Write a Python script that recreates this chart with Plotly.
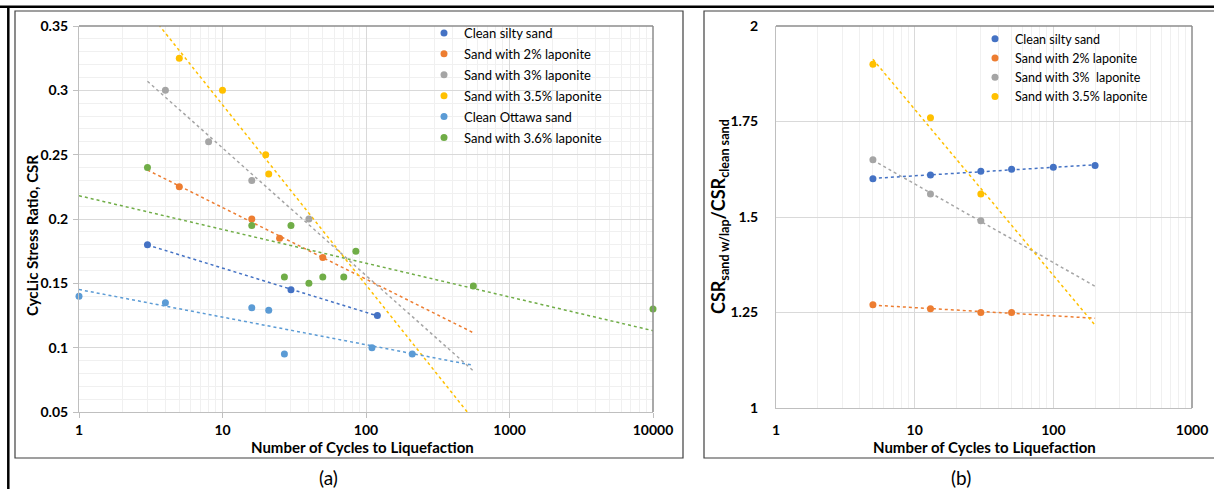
import numpy as np
import plotly.graph_objects as go

# ---------------- data: panel (a) CSR vs number of cycles ----------------
silty_n = [3, 30, 120]
silty_csr = [0.18, 0.145, 0.125]
lap2_n = [5, 16, 25, 50]
lap2_csr = [0.225, 0.2, 0.185, 0.17]
lap3_n = [4, 8, 16, 40]
lap3_csr = [0.3, 0.26, 0.23, 0.2]
lap35_n = [5, 10, 20, 21]
lap35_csr = [0.325, 0.3, 0.25, 0.235]
ottawa_n = [1, 4, 16, 21, 27, 110, 210]
ottawa_csr = [0.14, 0.135, 0.131, 0.129, 0.095, 0.1, 0.095]
lap36_n = [3, 16, 30, 27, 40, 50, 70, 85, 560, 10000]
lap36_csr = [0.24, 0.195, 0.195, 0.155, 0.15, 0.155, 0.155, 0.175, 0.148, 0.13]

# extent (in cycles) of each logarithmic trendline
trend_span_a = {
    "silty": [3, 120],
    "lap2": [3, 556],
    "lap3": [3, 556],
    "lap35": [3, 556],
    "ottawa": [1, 556],
    "lap36": [1, 10000],
}

# ---------------- data: panel (b) CSR ratio vs number of cycles ----------------
ratio_silty_n = [5, 13, 30, 50, 100, 200]
ratio_silty = [1.60, 1.61, 1.62, 1.625, 1.63, 1.635]
ratio_lap2_n = [5, 13, 30, 50]
ratio_lap2 = [1.27, 1.26, 1.25, 1.25]
ratio_lap3_n = [5, 13, 30]
ratio_lap3 = [1.65, 1.56, 1.49]
ratio_lap35_n = [5, 13, 30]
ratio_lap35 = [1.90, 1.76, 1.56]

trend_span_b = [5, 200]

x_ticks_a = [1, 10, 100, 1000, 10000]
y_ticks_a = [0.05, 0.1, 0.15, 0.2, 0.25, 0.3, 0.35]
x_ticks_b = [1, 10, 100, 1000]
y_ticks_b = [1, 1.25, 1.5, 1.75, 2]

BLUE = "#4472C4"
ORANGE = "#ED7D31"
GRAY = "#A5A5A5"
YELLOW = "#FFC000"
LBLUE = "#5B9BD5"
GREEN = "#70AD47"

FONT = "Lato"
W, H = 1214, 489


def log_fit_line(n, y, span):
    """Least-squares fit y = a + b*ln(n), evaluated at the span ends."""
    b, a = np.polyfit(np.log(n), y, 1)
    xs = np.array(span, dtype=float)
    return xs, a + b * np.log(xs)


fig = go.Figure()

series_a = [
    ("Clean silty sand", silty_n, silty_csr, BLUE, "silty"),
    ("Sand with 2% laponite", lap2_n, lap2_csr, ORANGE, "lap2"),
    ("Sand with 3% laponite", lap3_n, lap3_csr, GRAY, "lap3"),
    ("Sand with 3.5% laponite", lap35_n, lap35_csr, YELLOW, "lap35"),
    ("Clean Ottawa sand", ottawa_n, ottawa_csr, LBLUE, "ottawa"),
    ("Sand with 3.6% laponite", lap36_n, lap36_csr, GREEN, "lap36"),
]

for name, n, y, col, key in series_a:
    tx, ty = log_fit_line(n, y, trend_span_a[key])
    fig.add_trace(go.Scatter(
        x=tx, y=ty, mode="lines", xaxis="x", yaxis="y",
        line=dict(color=col, width=1.5, dash="dot"),
        showlegend=False, hoverinfo="skip", legendgroup="a_" + key))
for name, n, y, col, key in series_a:
    fig.add_trace(go.Scatter(
        x=n, y=y, mode="markers", name=name, xaxis="x", yaxis="y",
        marker=dict(color=col, size=7), legend="legend", cliponaxis=False,
        legendgroup="a_" + key))

series_b = [
    ("Clean silty sand", ratio_silty_n, ratio_silty, BLUE),
    ("Sand with 2% laponite", ratio_lap2_n, ratio_lap2, ORANGE),
    ("Sand with 3%\u00a0 laponite", ratio_lap3_n, ratio_lap3, GRAY),
    ("Sand with 3.5% laponite", ratio_lap35_n, ratio_lap35, YELLOW),
]
for i, (name, n, y, col) in enumerate(series_b):
    tx, ty = log_fit_line(n, y, trend_span_b)
    fig.add_trace(go.Scatter(
        x=tx, y=ty, mode="lines", xaxis="x2", yaxis="y2",
        line=dict(color=col, width=1.5, dash="dot"),
        showlegend=False, hoverinfo="skip", legendgroup="b%d" % i))
for i, (name, n, y, col) in enumerate(series_b):
    fig.add_trace(go.Scatter(
        x=n, y=y, mode="markers", name=name, xaxis="x2", yaxis="y2",
        marker=dict(color=col, size=7), legend="legend2", cliponaxis=False,
        legendgroup="b%d" % i))

# plot-area placement in pixels
ax_l, ax_r, ay_t, ay_b = 79, 653, 26, 412
bx_l, bx_r, by_t, by_b = 776, 1192, 26, 408

tick_font = dict(family=FONT, size=14, color="#000000", weight="bold")
grid = "#d9d9d9"
minor_grid = "#f0f0f0"
axis_line = "#bfbfbf"

fig.update_layout(
    width=W, height=H, autosize=False,
    margin=dict(l=0, r=0, t=0, b=0, pad=0, autoexpand=False),
    paper_bgcolor="white", plot_bgcolor="white",
    font=dict(family=FONT, size=12, color="#000000"),
    xaxis=dict(
        type="log", range=[0, 4], domain=[ax_l / W, ax_r / W], anchor="y",
        tickvals=x_ticks_a, ticktext=[str(v) for v in x_ticks_a],
        tickfont=tick_font, showgrid=True, gridcolor=grid, gridwidth=1,
        minor=dict(dtick="D1", showgrid=True, gridcolor=minor_grid, ticks=""),
        showline=True, linecolor=axis_line, linewidth=1,
        ticks="outside", ticklen=5, tickcolor=axis_line, zeroline=False,
        automargin=False,
    ),
    yaxis=dict(
        range=[0.05, 0.35], domain=[1 - ay_b / H, 1 - ay_t / H], anchor="x",
        tickvals=y_ticks_a, ticktext=[("%g" % v) for v in y_ticks_a],
        tickfont=tick_font, showgrid=True, gridcolor=grid, gridwidth=1,
        minor=dict(dtick=0.01, showgrid=True, gridcolor=minor_grid, ticks=""),
        showline=True, linecolor=axis_line, linewidth=1,
        ticks="outside", ticklen=5, tickcolor=axis_line, zeroline=False,
        ticklabelstandoff=2, automargin=False,
    ),
    xaxis2=dict(
        type="log", range=[0, 3], domain=[bx_l / W, bx_r / W], anchor="y2",
        tickvals=x_ticks_b, ticktext=[str(v) for v in x_ticks_b],
        tickfont=tick_font, showgrid=True, gridcolor=grid, gridwidth=1,
        minor=dict(dtick="D1", showgrid=True, gridcolor=minor_grid, ticks=""),
        showline=True, linecolor=axis_line, linewidth=1,
        ticks="", ticklabelstandoff=9, zeroline=False, automargin=False,
    ),
    yaxis2=dict(
        range=[1, 2], domain=[1 - by_b / H, 1 - by_t / H], anchor="x2",
        tickvals=y_ticks_b, ticktext=[("%g" % v) for v in y_ticks_b],
        tickfont=tick_font, showgrid=True, gridcolor=grid, gridwidth=1,
        showline=True, linecolor=axis_line, linewidth=1,
        ticks="", ticklabelstandoff=14, zeroline=False, automargin=False,
    ),
    legend=dict(
        x=424 / W, y=1 - 18 / H, xanchor="left", yanchor="top",
        bgcolor="rgba(0,0,0,0)", font=dict(family=FONT, size=13),
        tracegroupgap=1, itemclick=False, itemdoubleclick=False,
    ),
    legend2=dict(
        x=975 / W, y=1 - 24 / H, xanchor="left", yanchor="top",
        bgcolor="rgba(0,0,0,0)", font=dict(family=FONT, size=12.5),
        tracegroupgap=0, itemclick=False, itemdoubleclick=False,
    ),
)

shapes = []
# outer frame (thick black top and left edges)
shapes.append(dict(type="line", xref="paper", yref="paper", x0=0, x1=1,
                   y0=1 - 6.7 / H, y1=1 - 6.7 / H,
                   line=dict(color="black", width=2.5)))
shapes.append(dict(type="line", xref="paper", yref="paper", x0=8.3 / W, x1=8.3 / W,
                   y0=0, y1=1 - 6.7 / H, line=dict(color="black", width=2.5)))
# panel boxes
shapes.append(dict(type="rect", xref="paper", yref="paper",
                   x0=15 / W, x1=683 / W, y0=1 - 458 / H, y1=1 - 11 / H,
                   line=dict(color="#404040", width=1.2)))
shapes.append(dict(type="rect", xref="paper", yref="paper",
                   x0=704 / W, x1=1222 / W, y0=1 - 458 / H, y1=1 - 11 / H,
                   line=dict(color="#404040", width=1.2)))
# darker top and right plot-area borders
for xr, yr in (("x", "y"), ("x2", "y2")):
    shapes.append(dict(type="line", xref=xr + " domain", yref=yr + " domain",
                       x0=0, x1=1, y0=1, y1=1, line=dict(color="#8c8c8c", width=1.5)))
    shapes.append(dict(type="line", xref=xr + " domain", yref=yr + " domain",
                       x0=1, x1=1, y0=0, y1=1, line=dict(color="#8c8c8c", width=1.5)))
fig.update_layout(shapes=shapes)

title_font = dict(family=FONT, size=15, color="#000000", weight="bold")
centered = dict(xref="paper", yref="paper", showarrow=False,
                xanchor="center", yanchor="middle")
annotations = [
    dict(text="Number of Cycles to Liquefaction", x=362 / W, y=1 - 447 / H,
         font=title_font, **centered),
    dict(text="Number of Cycles to Liquefaction", x=984 / W, y=1 - 447 / H,
         font=title_font, **centered),
    dict(text="CycLic Stress Ratio, CSR", x=32 / W, y=1 - 236 / H, textangle=-90,
         font=title_font, **centered),
    dict(text="CSR<sub>sand w/lap</sub>/CSR<sub>clean sand</sub>",
         x=720 / W, y=1 - 217 / H, textangle=-90,
         font=dict(family=FONT, size=18, color="#000000", weight="bold"),
         **centered),
    dict(text="(a)", x=328 / W, y=1 - 477 / H,
         font=dict(family=FONT, size=19, color="#000000"), **centered),
    dict(text="(b)", x=961 / W, y=1 - 477 / H,
         font=dict(family=FONT, size=19, color="#000000"), **centered),
]
fig.update_layout(annotations=annotations)

# page without default body margin so the figure fills the window exactly
fig.write_html(
    "out.html",
    post_script="document.body.style.margin='0px';"
                "document.body.style.overflow='hidden';",
)
